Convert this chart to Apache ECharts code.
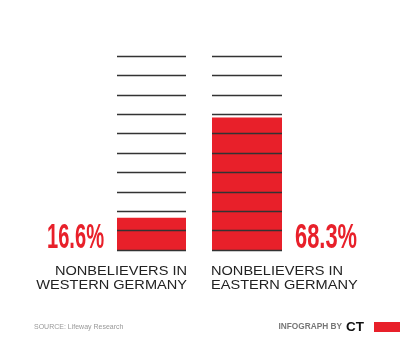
<!DOCTYPE html>
<html>
<head>
<meta charset="utf-8">
<script src="https://cdn.jsdelivr.net/npm/echarts@6/dist/echarts.min.js"></script>
<style>
  html, body { margin: 0; padding: 0; background: #fff; }
  #chart { width: 400px; height: 352px; }
</style>
</head>
<body>
<div id="chart"></div>
<script>
const categories = ['NONBELIEVERS IN\nWESTERN GERMANY', 'NONBELIEVERS IN\nEASTERN GERMANY'];
const values = [16.6, 68.3];
const source = 'SOURCE: Lifeway Research';

const RED = '#e8202a';
const chart = echarts.init(document.getElementById('chart'));

// squeeze the big numbers so they look like a condensed display face
const ctx = document.createElement('canvas').getContext('2d');
const numFont = 'bold 35px "Liberation Sans Narrow", "Liberation Sans", sans-serif';
ctx.font = numFont;
const squeeze = (txt, target) => target / ctx.measureText(txt).width;

const labels = values.map(v => v.toFixed(1) + '%');
const catFont = '13.5px "Liberation Sans", sans-serif';

// one little grid per column so the rule lines only span the bar
const columns = [{ left: 117, width: 69 }, { left: 212, width: 70 }];

const option = {
  animation: false,
  grid: columns.map(c => ({ left: c.left, width: c.width, top: 56, height: 194 })),
  xAxis: columns.map((c, i) => ({
    type: 'category',
    gridIndex: i,
    data: [categories[i]],
    show: false
  })),
  yAxis: columns.map((c, i) => ({
    type: 'value',
    gridIndex: i,
    min: 0,
    max: 100,
    interval: 10,
    z: 5,
    axisLine: { show: false },
    axisTick: { show: false },
    axisLabel: { show: false },
    splitLine: { show: true, lineStyle: { color: '#333', width: 1.3 } }
  })),
  series: values.map((v, i) => ({
    type: 'bar',
    xAxisIndex: i,
    yAxisIndex: i,
    data: [v],
    barWidth: '100%',
    itemStyle: { color: RED },
    z: 2
  })),
  graphic: [
    {
      type: 'text', x: 104, y: 238,
      scaleX: squeeze(labels[0], 57),
      style: { text: labels[0], font: numFont, fill: RED, align: 'right', verticalAlign: 'middle' }
    },
    {
      type: 'text', x: 295, y: 238,
      scaleX: squeeze(labels[1], 62),
      style: { text: labels[1], font: numFont, fill: RED, align: 'left', verticalAlign: 'middle' }
    },
    {
      type: 'text', x: 187, y: 264, scaleX: 1.08,
      style: { text: categories[0], font: catFont, fill: '#222', align: 'right', lineHeight: 14.5 }
    },
    {
      type: 'text', x: 211, y: 264, scaleX: 1.08,
      style: { text: categories[1], font: catFont, fill: '#222', align: 'left', lineHeight: 14.5 }
    },
    {
      type: 'text', x: 34, y: 327,
      style: { text: source, font: '7px "Liberation Sans", sans-serif', fill: '#999', verticalAlign: 'middle' }
    },
    {
      type: 'text', x: 342, y: 327,
      style: { text: 'INFOGRAPH BY', font: 'bold 8.3px "Liberation Sans", sans-serif', fill: '#777', align: 'right', verticalAlign: 'middle' }
    },
    {
      type: 'text', x: 346, y: 327.5,
      style: { text: 'CT', font: 'bold 13.5px "Liberation Sans", sans-serif', fill: '#111', verticalAlign: 'middle' }
    },
    {
      type: 'rect',
      shape: { x: 374, y: 322, width: 26, height: 10 },
      style: { fill: RED }
    }
  ]
};

chart.setOption(option);
</script>
</body>
</html>
